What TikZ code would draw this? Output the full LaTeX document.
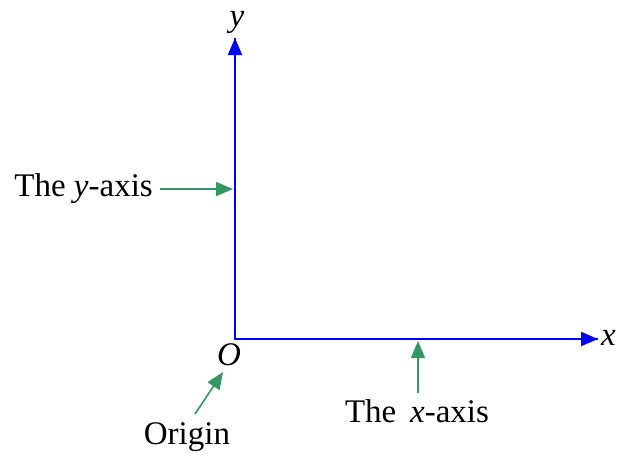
\documentclass[tikz,border=0pt]{standalone}
\usepackage{fontspec}
\setmainfont{Liberation Serif}
\usetikzlibrary{arrows.meta}
\definecolor{axblue}{RGB}{0,0,255}
\definecolor{lblgreen}{RGB}{52,150,96}
\begin{document}
\begin{tikzpicture}[x=1pt,y=-1pt,
  axis/.style={draw=axblue,line width=2pt,-{Triangle[length=17pt,width=14pt]}},
  pointer/.style={draw=lblgreen,line width=1.6pt,-{Triangle[length=17pt,width=14pt]}},
  lbl/.style={inner sep=0pt,font=\fontsize{33}{36}\selectfont}]
\useasboundingbox (0,0) rectangle (619,459);
\coordinate (O) at (235,339);
\coordinate (ytip) at (235,38);
\coordinate (xtip) at (598,339);
\draw[axis,-] (ytip) -- (O) -- (xtip);
\draw[axis] (O) -- (ytip);
\draw[axis] (O) -- (xtip);
\node[lbl] (ylab) at (237,22) {\textit{y}};
\node[lbl,anchor=west] (xlab) at (601,338) {\textit{x}};
\node[lbl] (olab) at (229,355) {\textit{O}};
\node[lbl] (origin) at (187,437) {Origin};
\node[lbl,anchor=east] (yaxis) at (153,189) {The \textit{y}-axis};
\node[lbl] (xaxis) at (417,411) {The \,\textit{x}-axis};
\coordinate (yax) at (233,189);
\coordinate (xax) at (418,341);
\coordinate (oax) at (223,372);
\draw[pointer] (yaxis.east) ++(7,0) -- (yax);
\draw[pointer] (418,393) -- (xax);
\draw[pointer] (195,414) -- (oax);
\end{tikzpicture}
\end{document}
